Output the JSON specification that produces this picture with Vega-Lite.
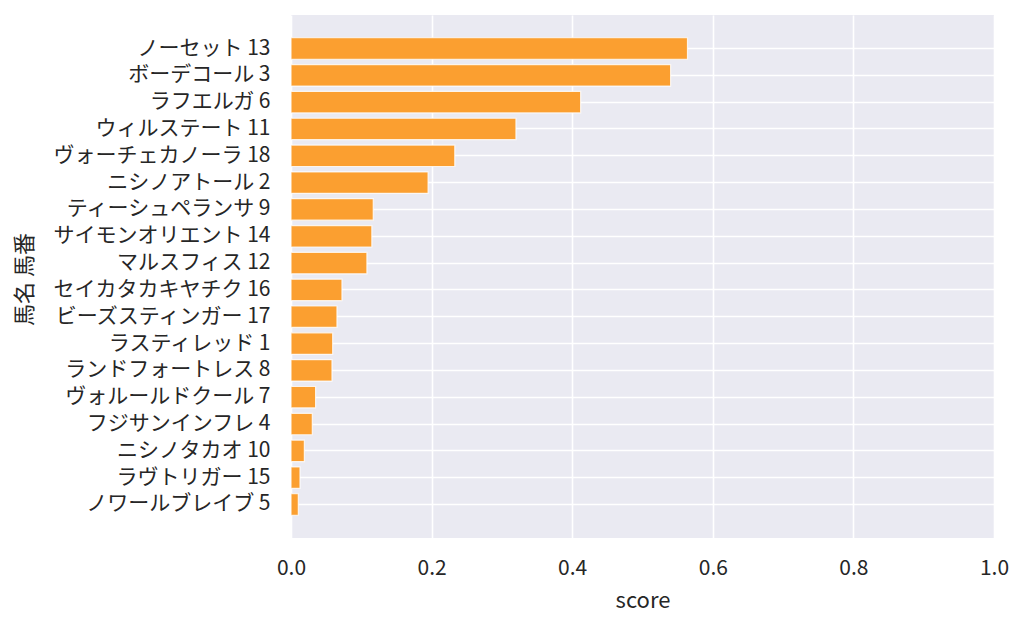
{
  "$schema": "https://vega.github.io/schema/vega-lite/v6.json",
  "width": 703,
  "height": 523,
  "autosize": {"type": "none"},
  "padding": {"left": 291, "top": 15, "right": 30, "bottom": 89},
  "background": "white",
  "config": {
    "font": "Noto Sans CJK JP",
    "view": {"fill": "#EAEAF2", "stroke": null},
    "axis": {
      "domain": false,
      "ticks": false,
      "tickSize": 0,
      "grid": true,
      "gridColor": "white",
      "gridWidth": 1.6,
      "labelColor": "#262626",
      "titleColor": "#262626",
      "labelFont": "Noto Sans CJK JP",
      "titleFont": "Noto Sans CJK JP",
      "titleFontWeight": "normal",
      "labelLimit": 0
    }
  },
  "data": {
    "values": [
      {"name": "ノーセット 13", "score": 0.564},
      {"name": "ボーデコール 3", "score": 0.540},
      {"name": "ラフエルガ 6", "score": 0.412},
      {"name": "ウィルステート 11", "score": 0.320},
      {"name": "ヴォーチェカノーラ 18", "score": 0.233},
      {"name": "ニシノアトール 2", "score": 0.195},
      {"name": "ティーシュペランサ 9", "score": 0.117},
      {"name": "サイモンオリエント 14", "score": 0.115},
      {"name": "マルスフィス 12", "score": 0.108},
      {"name": "セイカタカキヤチク 16", "score": 0.0725},
      {"name": "ビーズスティンガー 17", "score": 0.0654},
      {"name": "ラスティレッド 1", "score": 0.0593},
      {"name": "ランドフォートレス 8", "score": 0.0583},
      {"name": "ヴォルールドクール 7", "score": 0.035},
      {"name": "フジサンインフレ 4", "score": 0.0303},
      {"name": "ニシノタカオ 10", "score": 0.019},
      {"name": "ラヴトリガー 15", "score": 0.0128},
      {"name": "ノワールブレイブ 5", "score": 0.0104}
    ]
  },
  "mark": {
    "type": "bar",
    "fill": "#FB9F30",
    "stroke": "white",
    "strokeOpacity": 0.8,
    "strokeWidth": 1.2
  },
  "encoding": {
    "y": {
      "field": "name",
      "type": "nominal",
      "sort": "-x",
      "scale": {"paddingInner": 0.2, "paddingOuter": 0.849},
      "axis": {
        "title": "馬名 馬番",
        "grid": true,
        "bandPosition": 0.5,
        "labelFontSize": 21,
        "labelPadding": 21,
        "titleFontSize": 22,
        "titleX": -267,
        "titleY": 264,
        "titleBaseline": "middle",
        "titleAngle": -90
      }
    },
    "x": {
      "field": "score",
      "type": "quantitative",
      "scale": {"domain": [0, 1], "nice": false},
      "axis": {
        "title": "score",
        "values": [0, 0.2, 0.4, 0.6, 0.8, 1.0],
        "format": ".1f",
        "labelFontSize": 21,
        "labelPadding": 30,
        "labelBaseline": "middle",
        "labelFlush": false,
        "titleFontSize": 22,
        "titleX": 351.5,
        "titleY": 62,
        "titleBaseline": "middle"
      }
    }
  }
}
